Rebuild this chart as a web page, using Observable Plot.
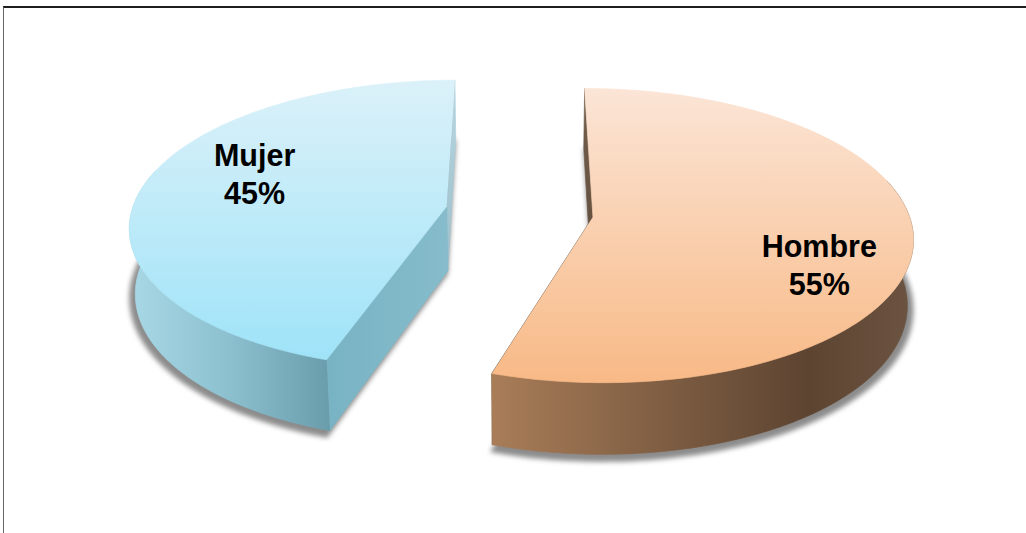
<!DOCTYPE html>
<html><head><meta charset="utf-8">
<script src="https://cdn.jsdelivr.net/npm/d3@7"></script>
<script src="https://cdn.jsdelivr.net/npm/@observablehq/plot@0.6"></script>
<style>
html,body{margin:0;padding:0;background:#fff;overflow:hidden;}
#wrap{position:relative;width:1026px;height:533px;}
#frame{position:absolute;left:3px;top:6px;width:1100px;height:600px;border-top:2px solid #1e1e1e;border-left:1px solid #666;pointer-events:none;}
g[aria-description="shadow"]{filter:blur(2.5px);}
</style></head><body><div id="wrap"><div id="chart"></div><div id="frame"></div></div>
<script>
// ---- data ----
const categories = ["Hombre", "Mujer"];
const values = [55, 45];

// ---- 3D view (perspective pie) ----
const W = 1026, H = 533;
const X0 = 519, Y0 = 211;
const view = {f: 2205, dist: 7, sinA: 0.455, thick: 0.235, explode: 0.235};
view.cosA = Math.sqrt(1 - view.sinA * view.sinA);
function project(px, py, pz) {
  const depth = view.dist - py * view.sinA - pz * view.cosA;
  return [view.f * px / depth, -view.f * (py * view.cosA - pz * view.sinA) / depth];
}

const total = d3.sum(values);
const rows = categories.map((c, i) => ({category: c, value: values[i]}));
const arcs = d3.pie().sort(null).value(d => d.value)(rows);
const slices = arcs.map(a => {
  const p0 = a.startAngle - Math.PI / 2, p1 = a.endAngle - Math.PI / 2;
  const mid = (p0 + p1) / 2;
  return {key: a.data.category, value: a.data.value, p0, p1, mid,
          ox: view.explode * Math.cos(mid), oz: view.explode * Math.sin(mid)};
});
function pt(s, r, phi, h) {
  const [x, y] = project(s.ox + r * Math.cos(phi), h, s.oz + r * Math.sin(phi));
  return {x, y};
}
function arcPts(s, r, a, b, h) {
  const n = Math.max(2, Math.ceil(Math.abs(b - a) / (Math.PI / 180)));
  return d3.range(n + 1).map(i => pt(s, r, a + (b - a) * i / n, h));
}
const deg = Math.PI / 180, t = view.thick;
function faces(s) {
  const lo = Math.max(s.p0, -15 * deg), hi = Math.min(s.p1, 195 * deg);
  const cut = phi => [pt(s, 0, 0, 0), pt(s, 1, phi, 0), pt(s, 1, phi, -t), pt(s, 0, 0, -t), pt(s, 0, 0, 0)];
  return {
    shadow: [pt(s, 0, 0, -t - 0.012), ...arcPts(s, 1.02, s.p0, s.p1, -t - 0.012)],
    top: [pt(s, 0, 0, 0), ...arcPts(s, 1, s.p0, s.p1, 0)],
    side: [...arcPts(s, 1, lo, hi, 0), ...arcPts(s, 1, hi, lo, -t)],
    cut0: cut(s.p0),
    cut1: cut(s.p1)
  };
}
const F = Object.fromEntries(slices.map(s => [s.key, faces(s)]));
const labelData = slices.map(s => {
  const p = pt(s, 0.72, s.mid + 14 * deg, 0);
  return {x: p.x, y: p.y, label: `${s.key}\n${Math.round(s.value / total * 100)}%`};
});

function defsMark() {
  const defs = document.createElementNS("http://www.w3.org/2000/svg", "defs");
  defs.innerHTML = `
  <linearGradient id="top-Mujer" x1="0" y1="0" x2="0" y2="1">
    <stop offset="0" stop-color="#dbf1f9"/><stop offset="1" stop-color="#9fe3f8"/></linearGradient>
  <linearGradient id="top-Hombre" x1="0" y1="0" x2="0" y2="1">
    <stop offset="0" stop-color="#fbe5d6"/><stop offset="1" stop-color="#f8b986"/></linearGradient>
  <linearGradient id="side-Mujer" x1="0" y1="0" x2="1" y2="0">
    <stop offset="0" stop-color="#a9d8e6"/><stop offset="0.5" stop-color="#8cc0cf"/><stop offset="1" stop-color="#6a9dac"/></linearGradient>
  <linearGradient id="side-Hombre" x1="0" y1="0" x2="1" y2="0">
    <stop offset="0" stop-color="#a97d58"/><stop offset="0.4" stop-color="#7f5e43"/><stop offset="0.75" stop-color="#5d4431"/><stop offset="1" stop-color="#6b5441"/></linearGradient>
  <linearGradient id="cut-Mujer" x1="0" y1="0" x2="1" y2="0">
    <stop offset="0" stop-color="#78b3c4"/><stop offset="1" stop-color="#86bccb"/></linearGradient>
  <linearGradient id="back-Mujer" x1="0" y1="0" x2="0" y2="1">
    <stop offset="0" stop-color="#b6d6e0"/><stop offset="1" stop-color="#9dbfcb"/></linearGradient>
  <linearGradient id="back-Hombre" x1="0" y1="0" x2="0" y2="1">
    <stop offset="0" stop-color="#75604d"/><stop offset="1" stop-color="#5f4b3b"/></linearGradient>`;
  return defs;
}

const face = (data, fill, extra = {}) => Plot.line(data, {x: "x", y: "y", fill, stroke: fill, strokeWidth: 0.7, ...extra});
const fillMap = {
  Hombre: {cut0: "url(#back-Hombre)", cut1: "url(#back-Hombre)"},
  Mujer: {cut0: "url(#cut-Mujer)", cut1: "url(#back-Mujer)"}
};
const sliceMarks = slices.flatMap(s => [
  face(F[s.key].cut1, fillMap[s.key].cut1),
  face(F[s.key].cut0, fillMap[s.key].cut0),
  face(F[s.key].side, `url(#side-${s.key})`),
  face(F[s.key].top, `url(#top-${s.key})`)
]);

const chart = Plot.plot({
  width: W, height: H, margin: 0,
  x: {domain: [-X0, W - X0], range: [0, W], axis: null},
  y: {domain: [-Y0, H - Y0], range: [0, H], axis: null},
  style: {background: "#fff"},
  marks: [
    defsMark,
    ...slices.map(s => Plot.line(F[s.key].shadow, {x: "x", y: "y", fill: "#000", fillOpacity: 0.45, stroke: "none", ariaDescription: "shadow"})),
    ...sliceMarks,
    Plot.text(labelData, {x: "x", y: "y", text: "label", fontSize: 30.5, fontWeight: "bold",
      fontFamily: "Liberation Sans, Arial, sans-serif", lineHeight: 1.25, fill: "#000", dx: 6, dy: 5})
  ]
});
document.getElementById("chart").appendChild(chart);
</script></body></html>
